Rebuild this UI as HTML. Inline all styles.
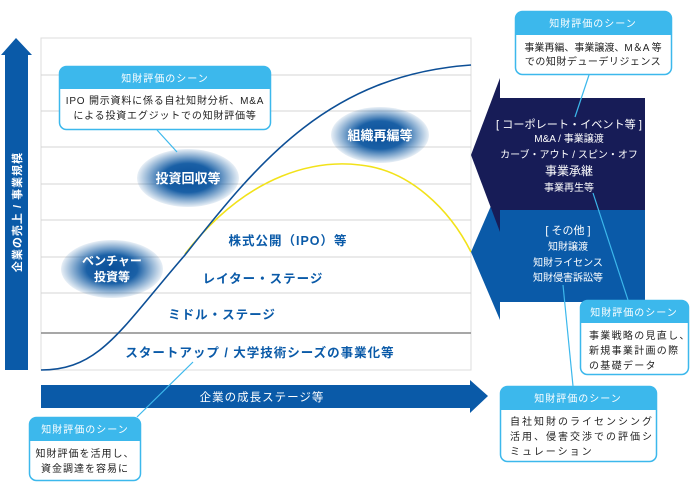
<!DOCTYPE html>
<html><head><meta charset="utf-8"><style>
body{margin:0;width:700px;height:492px;background:#fff;overflow:hidden;font-family:"Liberation Sans","Noto Sans CJK JP",sans-serif;}
svg text{font-family:"Liberation Sans","Noto Sans CJK JP",sans-serif;}
</style></head><body>
<svg width="700" height="492" viewBox="0 0 700 492" xmlns="http://www.w3.org/2000/svg">
<defs>
<radialGradient id="eg" cx="50%" cy="50%" r="50%">
<stop offset="0" stop-color="#0a4f99"/><stop offset="0.5" stop-color="#1a60a6"/><stop offset="1" stop-color="#1d64a8" stop-opacity="0.1"/>
</radialGradient>
</defs>
<rect x="41" y="38" width="430" height="332" fill="#fff" stroke="#dcdcdc"/>
<g stroke="#d4d4d4" stroke-width="1">
<line x1="41" y1="75" x2="471" y2="75"/><line x1="41" y1="111" x2="471" y2="111"/>
<line x1="41" y1="147" x2="471" y2="147"/><line x1="41" y1="184" x2="471" y2="184"/>
<line x1="41" y1="220" x2="471" y2="220"/><line x1="41" y1="257" x2="471" y2="257"/>
<line x1="41" y1="293" x2="471" y2="293"/>
</g>
<line x1="41" y1="333" x2="471" y2="333" stroke="#8a8a8a" stroke-width="1.5"/>
<polygon points="16,38 32,55 28,55 28,370 5,370 5,55 1,55" fill="#0a5aa8"/>
<text transform="translate(21,212) rotate(-90)" text-anchor="middle" fill="#fff" font-size="11" font-weight="bold" letter-spacing="1">企業の売上 / 事業規模</text>
<polygon points="41,385 470,385 470,380 488,396 470,413 470,408 41,408" fill="#0a5aa8"/>
<text x="262" y="401" text-anchor="middle" fill="#fff" font-size="11.5" letter-spacing="1">企業の成長ステージ等</text>
<path d="M185,254 C250,170 320,160 360,165 C410,170 450,210 471,252" fill="none" stroke="#f2e21a" stroke-width="1.6"/>
<path d="M41,370 C100,370 120,330 185,255 C260,160 330,75 471,65" fill="none" stroke="#0d4f96" stroke-width="1.6"/>
<ellipse cx="188" cy="178" rx="51" ry="29" fill="url(#eg)"/>
<text x="188" y="183" text-anchor="middle" fill="#fff" font-size="13" font-weight="bold">投資回収等</text>
<ellipse cx="380" cy="135" rx="49" ry="28" fill="url(#eg)"/>
<text x="380" y="140" text-anchor="middle" fill="#fff" font-size="13" font-weight="bold">組織再編等</text>
<ellipse cx="112" cy="269" rx="51" ry="29" fill="url(#eg)"/>
<text x="112" y="265" text-anchor="middle" fill="#fff" font-size="12" font-weight="bold">ベンチャー</text>
<text x="112" y="281" text-anchor="middle" fill="#fff" font-size="12" font-weight="bold">投資等</text>
<g fill="#0a5aa8" font-size="12.5" font-weight="bold" text-anchor="middle" letter-spacing="1">
<text x="288" y="245">株式公開（IPO）等</text>
<text x="263" y="283">レイター・ステージ</text>
<text x="222" y="319">ミドル・ステージ</text>
<text x="260" y="357">スタートアップ / 大学技術シーズの事業化等</text>
</g>
<polygon points="500,185 471,252 500,320" fill="#0a5aa8"/>
<rect x="500" y="210" width="145" height="92" fill="#0a5aa8"/>
<polygon points="500,78 471,155 500,232" fill="#171c57"/>
<rect x="500" y="98" width="145" height="112" fill="#171c57"/>
<g fill="#fff" text-anchor="middle" font-size="10">
<text x="569" y="128" font-size="11" textLength="146" lengthAdjust="spacingAndGlyphs">[ コーポレート・イベント等 ]</text>
<text x="569" y="142">M&amp;A / 事業譲渡</text>
<text x="569" y="158">カーブ・アウト / スピン・オフ</text>
<text x="569" y="175" font-size="12">事業承継</text>
<text x="569" y="191">事業再生等</text>
<text x="568" y="234" font-size="11">[ その他 ]</text>
<text x="568" y="250">知財譲渡</text>
<text x="568" y="266">知財ライセンス</text>
<text x="568" y="281">知財侵害訴訟等</text>
</g>
<g stroke="#3cb8ec" stroke-width="1.2">
<line x1="157" y1="130" x2="177" y2="152"/>
<line x1="589" y1="75" x2="575" y2="117"/>
<line x1="593" y1="193" x2="628" y2="300"/>
<line x1="563" y1="285" x2="573" y2="386"/>
<line x1="193" y1="362" x2="137" y2="417"/>
</g>
<g font-size="10" text-anchor="middle">
<g>
<rect x="59.5" y="66.5" width="211" height="63" rx="7" fill="#fff" stroke="#3cb8ec" stroke-width="1.5"/>
<path d="M59.5,89 V73.5 a7,7 0 0 1 7,-7 H263.5 a7,7 0 0 1 7,7 V89 Z" fill="#3cb8ec"/>
<text x="165" y="82" fill="#fff" letter-spacing="1">知財評価のシーン</text>
<text x="165" y="104" fill="#222" letter-spacing="0.8">IPO 開示資料に係る自社知財分析、M&amp;A</text>
<text x="165" y="119" fill="#222" letter-spacing="0.8">による投資エグジットでの知財評価等</text>
</g>
<g>
<rect x="515.5" y="11.5" width="156" height="63" rx="7" fill="#fff" stroke="#3cb8ec" stroke-width="1.5"/>
<path d="M515.5,35 V18.5 a7,7 0 0 1 7,-7 H664.5 a7,7 0 0 1 7,7 V35 Z" fill="#3cb8ec"/>
<text x="593" y="27" fill="#fff" letter-spacing="1">知財評価のシーン</text>
<text x="593" y="51" fill="#222">事業再編、事業譲渡、M＆A 等</text>
<text x="593" y="65" fill="#222" letter-spacing="0.5">での知財デューデリジェンス</text>
</g>
<g text-anchor="start" letter-spacing="1.3">
<rect x="580.5" y="300.5" width="108" height="74" rx="7" fill="#fff" stroke="#3cb8ec" stroke-width="1.5"/>
<path d="M580.5,323 V307.5 a7,7 0 0 1 7,-7 H681.5 a7,7 0 0 1 7,7 V323 Z" fill="#3cb8ec"/>
<text x="634" y="316" fill="#fff" text-anchor="middle" letter-spacing="1">知財評価のシーン</text>
<text x="589" y="339" fill="#222">事業戦略の見直し、</text>
<text x="589" y="354" fill="#222">新規事業計画の際</text>
<text x="589" y="369" fill="#222">の基礎データ</text>
</g>
<g text-anchor="start" letter-spacing="2">
<rect x="500.5" y="386.5" width="156" height="75" rx="7" fill="#fff" stroke="#3cb8ec" stroke-width="1.5"/>
<path d="M500.5,410 V393.5 a7,7 0 0 1 7,-7 H649.5 a7,7 0 0 1 7,7 V410 Z" fill="#3cb8ec"/>
<text x="578" y="402" fill="#fff" text-anchor="middle" letter-spacing="1">知財評価のシーン</text>
<text x="510" y="425" fill="#222">自社知財のライセンシング</text>
<text x="510" y="440" fill="#222">活用、侵害交渉での評価シ</text>
<text x="510" y="455" fill="#222">ミュレーション</text>
</g>
<g letter-spacing="1">
<rect x="29.5" y="417.5" width="111" height="63" rx="7" fill="#fff" stroke="#3cb8ec" stroke-width="1.5"/>
<path d="M29.5,441 V424.5 a7,7 0 0 1 7,-7 H133.5 a7,7 0 0 1 7,7 V441 Z" fill="#3cb8ec"/>
<text x="85" y="433" fill="#fff">知財評価のシーン</text>
<text x="85" y="457" fill="#222">知財評価を活用し、</text>
<text x="85" y="472" fill="#222">資金調達を容易に</text>
</g>
</g>
</svg>
</body></html>
